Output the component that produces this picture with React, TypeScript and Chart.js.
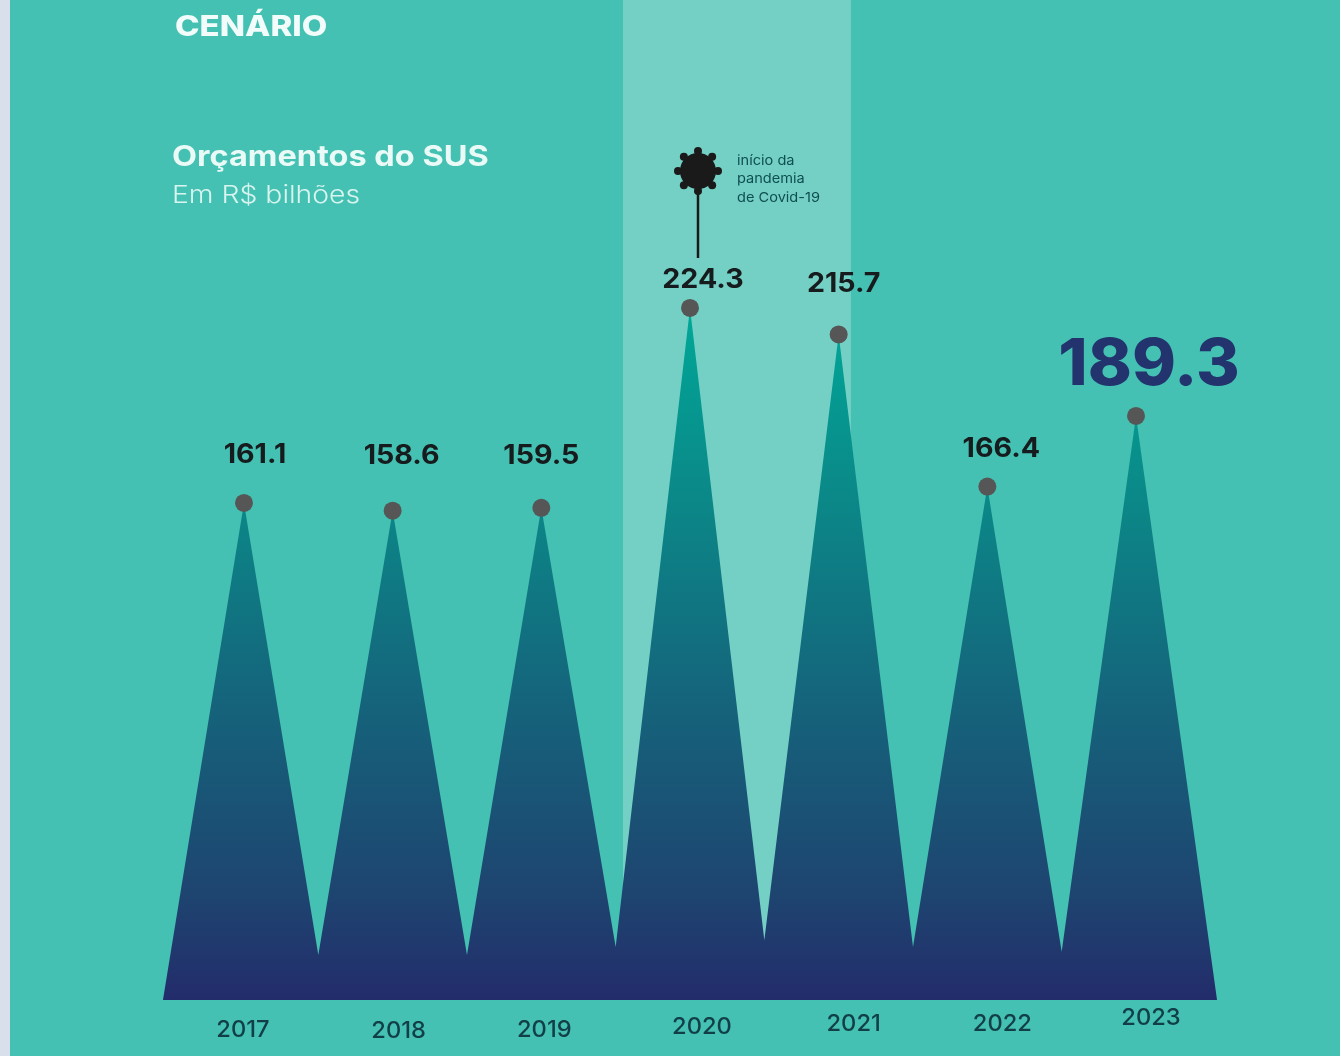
import React, { useEffect, useRef } from "react";
import { Chart, registerables } from "chart.js";

Chart.register(...registerables);

const years = [2017, 2018, 2019, 2020, 2021, 2022, 2023];
const budgets = [161.1, 158.6, 159.5, 224.3, 215.7, 166.4, 189.3];
const valleys = [14.6, 14.6, 17.2, 19.4, 17.2, 15.6];
const pandemicBand = [2019.549, 2021.082];
const noteLines = ["início da", "pandemia", "de Covid-19"];

const TEAL = "#44c1b2";
const SANS = "Inter, 'Open Sans', sans-serif";

// Draws real text, widened horizontally because the reference's geometric face is wider than Inter.
function text(ctx: CanvasRenderingContext2D, s: string, x: number, y: number, font: string, color: string, align: CanvasTextAlign = "center", stretch = 1) {
  ctx.save();
  ctx.translate(x, y);
  ctx.scale(stretch, 1);
  ctx.font = font;
  ctx.fillStyle = color;
  ctx.textAlign = align;
  ctx.textBaseline = "middle";
  ctx.fillText(s, 0, 0);
  ctx.restore();
}

const backdrop = {
  id: "backdrop",
  beforeDatasetsDraw(chart: any) {
    const { ctx, width, height, scales } = chart;
    ctx.save();
    ctx.fillStyle = TEAL;
    ctx.fillRect(0, 0, width, height);
    ctx.fillStyle = "#d8e0ec";
    ctx.fillRect(0, 0, 10, height);
    const x0 = scales.x.getPixelForValue(pandemicBand[0]);
    const x1 = scales.x.getPixelForValue(pandemicBand[1]);
    ctx.fillStyle = "#74d0c4";
    ctx.fillRect(x0, 0, x1 - x0, scales.y.getPixelForValue(0));
    ctx.restore();
  },
};

const valueOffsets = [[11, -48], [9, -55], [0, -52], [13, -28], [5, -51], [14, -38], [13, -50]];
const yearOffsets = [[-1, 29], [6, 30], [3, 29], [12, 26], [15, 23], [15, 23], [15, 17]];

const annotations = {
  id: "annotations",
  afterDatasetsDraw(chart: any) {
    const { ctx, scales } = chart;
    const X = scales.x, Y = scales.y;
    const base = Y.getPixelForValue(0);

    text(ctx, "CENÁRIO", 175, 28, `800 28px ${SANS}`, "#f2fcfa", "left", 1.18);
    text(ctx, "Orçamentos do SUS", 172, 157, `700 29px ${SANS}`, "#eafaf6", "left", 1.12);
    text(ctx, "Em R$ bilhões", 172, 196, `300 24px ${SANS}`, "#d8f4ef", "left", 1.18);

    years.forEach((year, i) => {
      const px = X.getPixelForValue(year);
      const py = Y.getPixelForValue(budgets[i]);
      const [vx, vy] = valueOffsets[i];
      const last = i === years.length - 1;
      text(ctx, budgets[i].toFixed(1), px + vx, py + vy, last ? `800 64px ${SANS}` : `700 27px ${SANS}`, last ? "#22336e" : "#161b1d", "center", last ? 1.04 : 1.06);
      const [yx, yy] = yearOffsets[i];
      text(ctx, String(year), px + yx, base + yy + 1, `500 23px ${SANS}`, "#123f47", "center", 1.03);
    });

    // virus marker and stem, placed over the 2020 peak
    const cx = X.getPixelForValue(2020) + 8;
    const cy = 171;
    ctx.save();
    ctx.strokeStyle = "#1a1a1a";
    ctx.fillStyle = "#1a1a1a";
    ctx.lineWidth = 2.5;
    ctx.beginPath();
    ctx.moveTo(cx, cy + 16);
    ctx.lineTo(cx, 258);
    ctx.stroke();
    ctx.beginPath();
    ctx.arc(cx, cy, 18, 0, Math.PI * 2);
    ctx.fill();
    ctx.lineWidth = 5;
    for (let k = 0; k < 8; k++) {
      const a = (k * Math.PI) / 4;
      const sx = Math.sin(a), sy = -Math.cos(a);
      ctx.beginPath();
      ctx.moveTo(cx + sx * 15, cy + sy * 15);
      ctx.lineTo(cx + sx * 20, cy + sy * 20);
      ctx.stroke();
      ctx.beginPath();
      ctx.arc(cx + sx * 20, cy + sy * 20, 4, 0, Math.PI * 2);
      ctx.fill();
    }
    ctx.restore();

    noteLines.forEach((line, i) => {
      text(ctx, line, 737, 160.5 + i * 18.5, `400 13.5px ${SANS}`, "#0f4f52", "left", 1.08);
    });
  },
};

export default function App() {
  const ref = useRef<HTMLCanvasElement>(null);
  useEffect(() => {
    document.body.style.margin = "0";
    const outline: { x: number; y: number }[] = [{ x: years[0] - 0.545, y: 0 }];
    years.forEach((year, i) => {
      outline.push({ x: year, y: budgets[i] });
      if (i < valleys.length) outline.push({ x: year + 0.5, y: valleys[i] });
    });
    outline.push({ x: years[years.length - 1] + 0.545, y: 0 });

    const chart = new Chart(ref.current as HTMLCanvasElement, {
      type: "line",
      data: {
        datasets: [
          {
            label: "Pontos",
            data: years.map((x, i) => ({ x, y: budgets[i] })),
            showLine: false,
            pointRadius: 9,
            pointBackgroundColor: "#565656",
            pointBorderWidth: 0,
            order: 0,
          },
          {
            label: "Orçamentos do SUS",
            data: outline,
            borderWidth: 0,
            pointRadius: 0,
            tension: 0,
            fill: "origin",
            order: 1,
            backgroundColor: (c: any) => {
              const { ctx, scales } = c.chart;
              const top = scales.y ? scales.y.getPixelForValue(224.3) : NaN;
              const bottom = scales.y ? scales.y.getPixelForValue(0) : NaN;
              if (!Number.isFinite(top) || !Number.isFinite(bottom)) return "#1e4470";
              const g = ctx.createLinearGradient(0, top, 0, bottom);
              g.addColorStop(0, "#00a898");
              g.addColorStop(0.3, "#0c8587");
              g.addColorStop(0.6, "#16607a");
              g.addColorStop(0.85, "#1e4470");
              g.addColorStop(1, "#232c6b");
              return g;
            },
          },
        ],
      },
      options: {
        animation: false,
        responsive: false,
        parsing: false,
        normalized: true,
        layout: { autoPadding: false, padding: { left: 0, right: 0, top: 0, bottom: 56 } },
        plugins: { legend: { display: false }, tooltip: { enabled: false } },
        scales: {
          x: { type: "linear", display: false, min: 2015.359, max: 2024.372 },
          y: { type: "linear", display: false, min: 0, max: 324.1 },
        },
      } as any,
      plugins: [backdrop, annotations],
    } as any);
    return () => chart.destroy();
  }, []);
  return <canvas ref={ref} width={1340} height={1056} style={{ display: "block", width: 1340, height: 1056 }} />;
}
